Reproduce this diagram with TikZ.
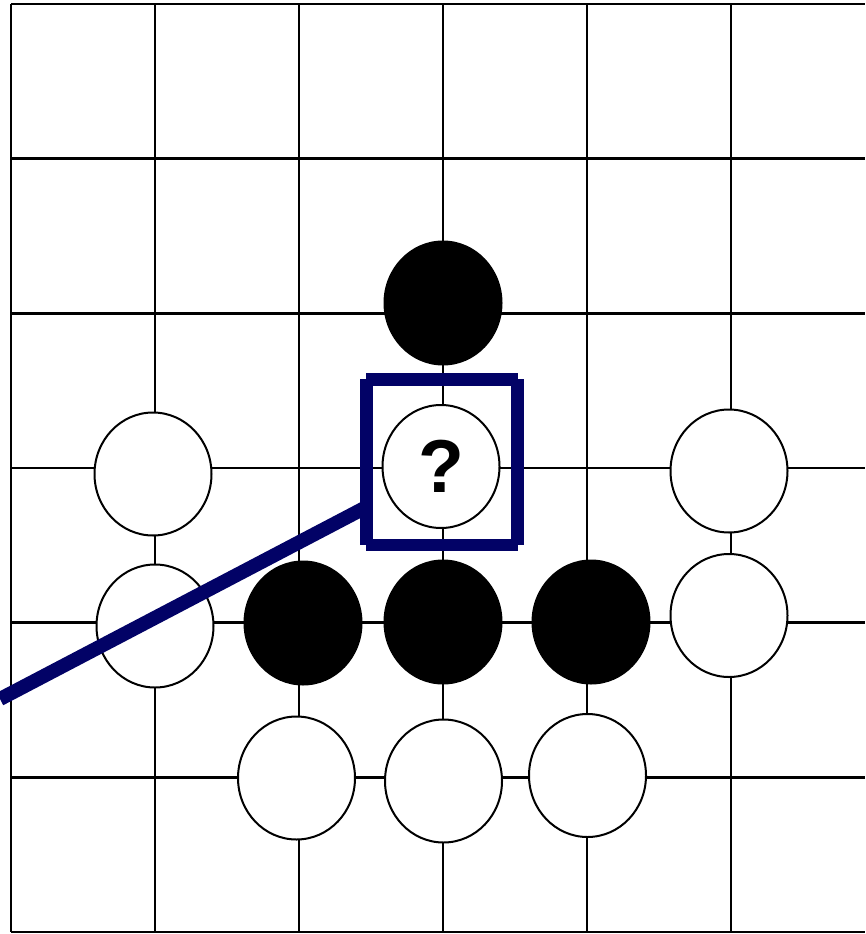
\documentclass[tikz,border=0pt]{standalone}
\usepackage{fontspec}
\setmainfont{Liberation Sans}
\usetikzlibrary{shapes.geometric,calc}
\definecolor{navyblue}{RGB}{2,2,102}
\tikzset{
  gridline/.style={line width=2.8pt, black},
  stone/.style={ellipse, draw=black, line width=2pt, minimum width=117pt, minimum height=123pt, inner sep=0pt},
  whitestone/.style={stone, fill=white},
  blackstone/.style={stone, fill=black},
  markline/.style={line width=12.5pt, navyblue, line cap=butt},
  pointer/.style={line width=14pt, navyblue, line cap=butt},
}
\begin{document}
\begin{tikzpicture}[x=1pt,y=-1pt]
\useasboundingbox (0,0) rectangle (865,934);
\fill[white] (0,0) rectangle (865,934);
% grid
\foreach \x in {11,155,299,443,587,731}
  \draw[gridline] (\x,4) -- (\x,932);
\foreach \y in {4,158.7,313.3,468,622.7,777.3,932}
  \draw[gridline] (11,\y) -- (865,\y);
% stones
\node[blackstone] (b1) at (443,303) {};
\node[whitestone] (q) at (441,466.5) {\fontsize{75}{80}\selectfont\bfseries ?};
\node[whitestone] (w1) at (153,474) {};
\node[whitestone] (w2) at (729,471) {};
\node[whitestone] (w3) at (155,626) {};
\node[blackstone] (b2) at (303,623) {};
\node[blackstone] (b3) at (443,622) {};
\node[blackstone] (b4) at (591,622) {};
\node[whitestone] (w4) at (729,615.5) {};
\node[whitestone] (w5) at (296.5,778) {};
\node[whitestone] (w6) at (443.5,781) {};
\node[whitestone] (w7) at (587.5,775.5) {};
% marker box
\node[draw=none, minimum width=151pt, minimum height=165.5pt, inner sep=0pt] (box) at (442,462.25) {};
\coordinate (lend) at (0,699);
\draw[pointer] (lend) -- ($(box.south west)!0.23!(box.north west)$);
\draw[markline] (box.north west) -- (box.north east);
\draw[markline] (box.south west) -- (box.south east);
\draw[markline] (box.north west) -- (box.south west);
\draw[markline] (box.north east) -- (box.south east);
\end{tikzpicture}
\end{document}
